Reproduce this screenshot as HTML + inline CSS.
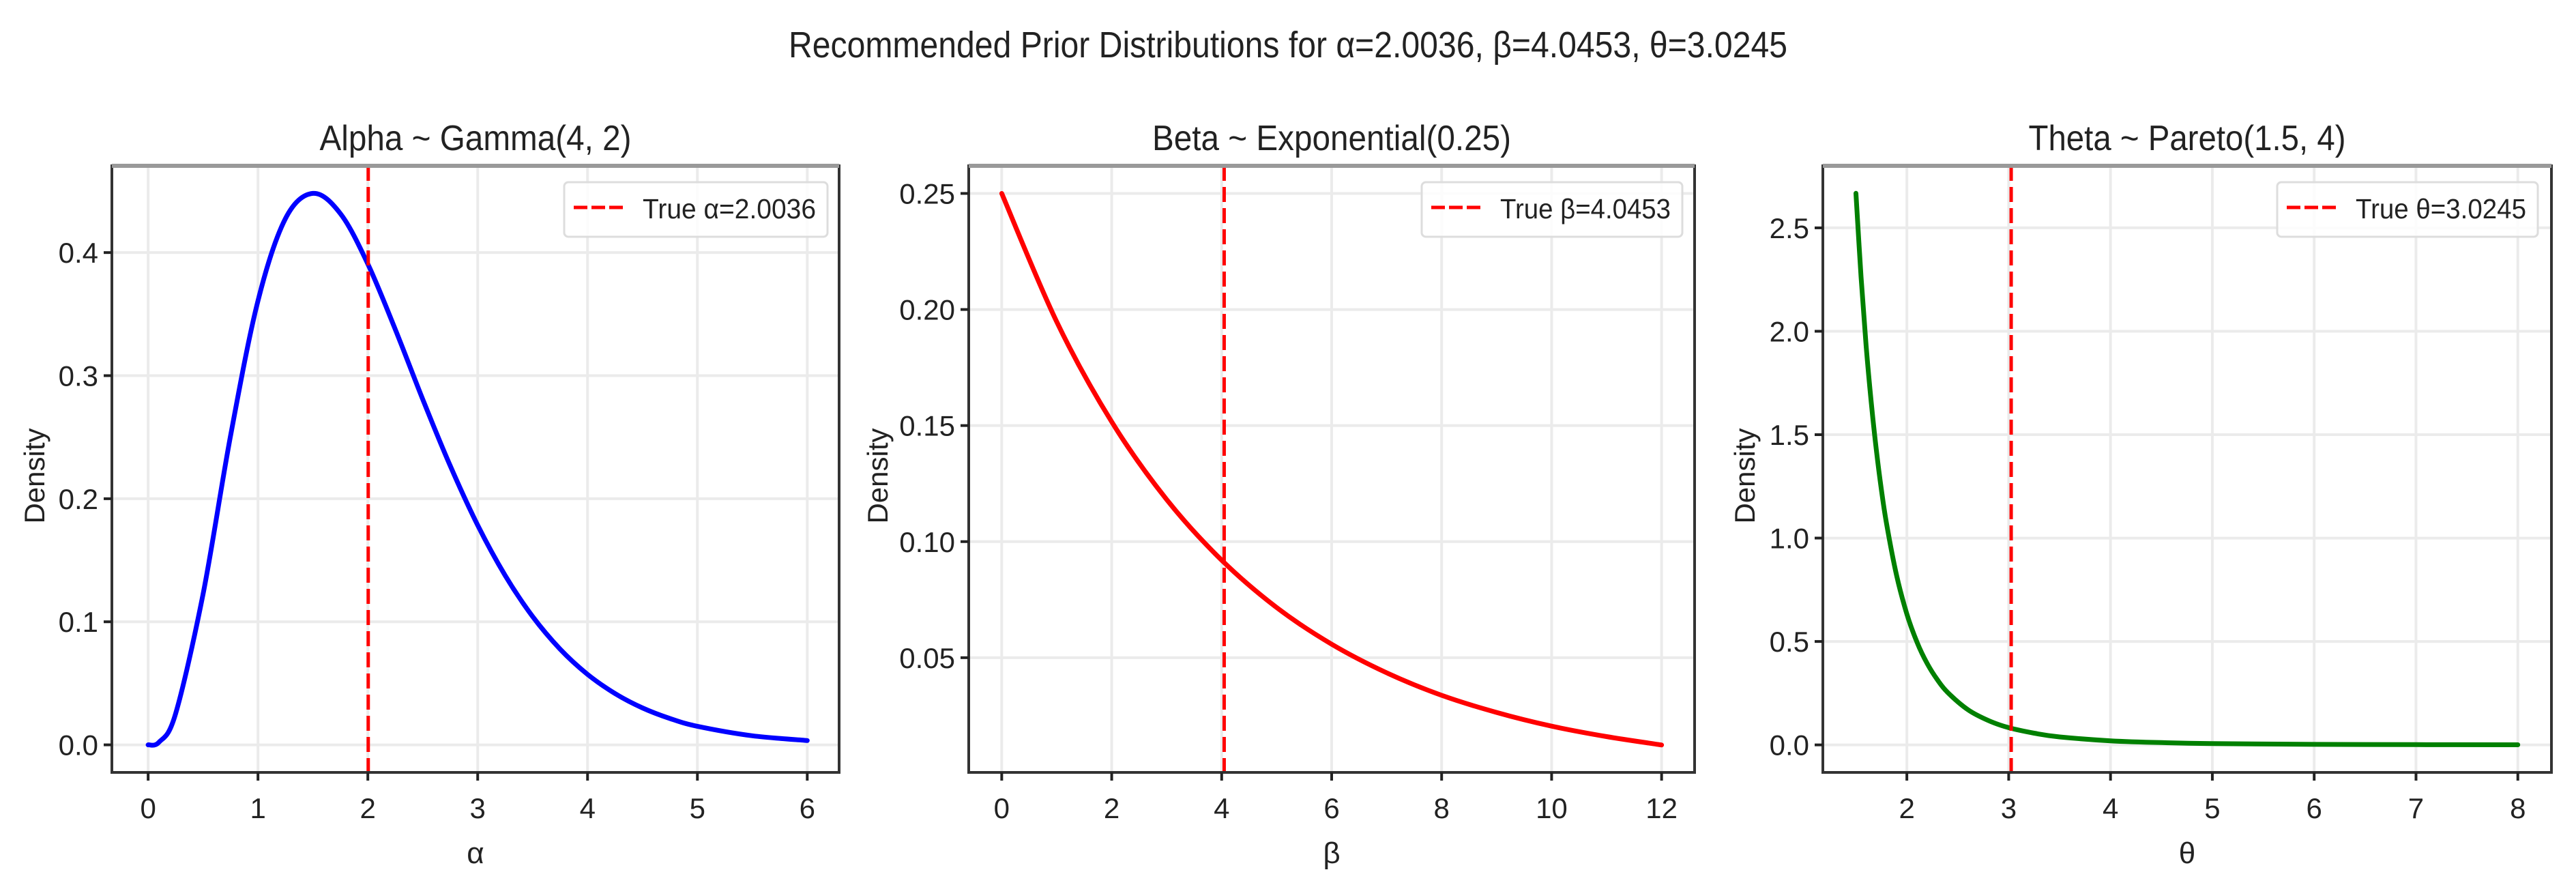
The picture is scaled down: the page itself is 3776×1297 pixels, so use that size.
<!DOCTYPE html>
<html><head><meta charset="utf-8">
<style>
html,body{margin:0;padding:0;background:#fff;}
svg{display:block;}
text{font-family:"Liberation Sans","DejaVu Sans",sans-serif;fill:#222;}
</style></head>
<body>
<svg id="fig" width="3776" height="1297" viewBox="0 0 3776 1297" xmlns="http://www.w3.org/2000/svg">
<text x="1888" y="84" font-size="54" text-anchor="middle" textLength="1464" lengthAdjust="spacingAndGlyphs">Recommended Prior Distributions for α=2.0036, β=4.0453, θ=3.0245</text>
</svg>
<script>
// ---- Panel 1 data: Gamma(4, 2)
const alphaX = [0,0.1,0.25,0.5,0.75,1,1.25,1.5,1.75,2,2.25,2.5,2.75,3,3.25,3.5,3.75,4,4.25,4.5,4.75,5,5.5,6];
const alphaY = [0,0.0022,0.0253,0.1226,0.2510,0.3609,0.4276,0.4481,0.4317,0.3907,0.3375,0.2807,0.2267,0.1785,0.1376,0.1043,0.0778,0.0573,0.0417,0.0300,0.0214,0.0151,0.0074,0.0035];
const alphaXTicks = [0,1,2,3,4,5,6];
const alphaYTicks = [0.0,0.1,0.2,0.3,0.4];
const alphaYLabels = ["0.0","0.1","0.2","0.3","0.4"];
const alphaTrue = 2.0036;
// ---- Panel 2 data: Exponential(0.25)
const betaX = [0,1,2,3,4,5,6,7,8,9,10,11,12];
const betaY = [0.25,0.1947,0.1516,0.1181,0.0920,0.0716,0.0558,0.0435,0.0338,0.0264,0.0205,0.0160,0.0124];
const betaXTicks = [0,2,4,6,8,10,12];
const betaYTicks = [0.05,0.10,0.15,0.20,0.25];
const betaYLabels = ["0.05","0.10","0.15","0.20","0.25"];
const betaTrue = 4.0453;
// ---- Panel 3 data: Pareto(1.5, 4)
const thetaX = [1.5,1.55,1.6,1.65,1.7,1.75,1.8,1.9,2.0,2.1,2.2,2.3,2.4,2.6,2.8,3.0,3.25,3.5,4,4.5,5,6,7,8];
const thetaY = [2.667,2.263,1.931,1.657,1.426,1.234,1.071,0.818,0.633,0.496,0.393,0.315,0.254,0.170,0.118,0.0833,0.0567,0.0386,0.0198,0.0110,0.0065,0.0026,0.0012,0.0006];
const thetaXTicks = [2,3,4,5,6,7,8];
const thetaYTicks = [0.0,0.5,1.0,1.5,2.0,2.5];
const thetaYLabels = ["0.0","0.5","1.0","1.5","2.0","2.5"];
const thetaTrue = 3.0245;

const NS = "http://www.w3.org/2000/svg";
const fig = document.getElementById('fig');
function mk(tag, attrs, parent){
  const e = document.createElementNS(NS, tag);
  for (const k in attrs) e.setAttribute(k, attrs[k]);
  (parent||fig).appendChild(e);
  return e;
}
function smoothPath(pts){
  let d = "M" + pts[0][0].toFixed(1) + "," + pts[0][1].toFixed(1);
  for (let i=0;i<pts.length-1;i++){
    const p0 = pts[Math.max(0,i-1)], p1 = pts[i], p2 = pts[i+1], p3 = pts[Math.min(pts.length-1,i+2)];
    const c1x = p1[0] + (p2[0]-p0[0])/6, c1y = p1[1] + (p2[1]-p0[1])/6;
    const c2x = p2[0] - (p3[0]-p1[0])/6, c2y = p2[1] - (p3[1]-p1[1])/6;
    d += " C" + c1x.toFixed(1)+","+c1y.toFixed(1)+" "+c2x.toFixed(1)+","+c2y.toFixed(1)+" "+p2[0].toFixed(1)+","+p2[1].toFixed(1);
  }
  return d;
}
function panel(cfg){
  const g = mk('g', {});
  
  
  const sx = v => cfg.L + (v - cfg.xmin) / (cfg.xmax - cfg.xmin) * (cfg.R - cfg.L);
  const sy = v => cfg.B - (v - cfg.ymin) / (cfg.ymax - cfg.ymin) * (cfg.B - cfg.T);
  cfg.xt.forEach(v => {
    const l = mk('line', {x1:sx(v), x2:sx(v), y1:cfg.T, y2:cfg.B, stroke:'#ebebeb', 'stroke-width':4}, g);
    
    
  });
  cfg.yt.forEach(v => {
    const l = mk('line', {x1:cfg.L, x2:cfg.R, y1:sy(v), y2:sy(v), stroke:'#ebebeb', 'stroke-width':4}, g);
    
    
  });
  const pts = cfg.xs.map((x,i) => [sx(x), sy(cfg.ys[i])]);
  const c = mk('path', {d:smoothPath(pts), fill:'none', stroke:cfg.color, 'stroke-width':7, 'stroke-linejoin':'round', 'stroke-linecap':'round'}, g);
  
  
  const tl = mk('line', {x1:sx(cfg.truth), x2:sx(cfg.truth), y1:cfg.T, y2:cfg.B, stroke:'#ff0000', 'stroke-width':5, 'stroke-dasharray':'22 9'}, g);
  
  
  const sp = mk('rect', {x:cfg.L, y:cfg.T, width:cfg.R-cfg.L, height:cfg.B-cfg.T, fill:'none', stroke:'#333', 'stroke-width':4}, g);
  
  
  const top = mk('line', {x1:cfg.L, x2:cfg.R, y1:cfg.T, y2:cfg.T, stroke:'#999', 'stroke-width':6}, g);
  
  
  cfg.xt.forEach(v => {
    const t = mk('line', {x1:sx(v), x2:sx(v), y1:cfg.B, y2:cfg.B+12, stroke:'#222', 'stroke-width':4}, g);
    
    
    const tx = mk('text', {x:sx(v), y:cfg.B+67, 'font-size':42, 'text-anchor':'middle'}, g);
    tx.textContent = String(v);
    
    
  });
  cfg.yt.forEach((v,i) => {
    const t = mk('line', {x1:cfg.L-12, x2:cfg.L, y1:sy(v), y2:sy(v), stroke:'#222', 'stroke-width':4}, g);
    
    
    const tx = mk('text', {x:cfg.L-20, y:sy(v)+15, 'font-size':42, 'text-anchor':'end'}, g);
    tx.textContent = cfg.yl[i];
    
    
  });
  const ti = mk('text', {x:(cfg.L+cfg.R)/2, y:220, 'font-size':52, 'text-anchor':'middle', textLength:cfg.titleW, lengthAdjust:'spacingAndGlyphs'}, g);
  ti.textContent = cfg.title;
  
  
  const xl = mk('text', {x:(cfg.L+cfg.R)/2, y:1265, 'font-size':44, 'text-anchor':'middle'}, g);
  xl.textContent = cfg.xlabel;
  
  
  const yl = mk('text', {x:0, y:0, 'font-size':42, 'text-anchor':'middle', transform:'translate('+(cfg.ylx+14)+','+((cfg.T+cfg.B)/2+10)+') rotate(-90)'}, g);
  yl.textContent = 'Density';
  
  
  const lg = mk('g', {}, g);
  
  
  const lx = cfg.legX, lw = cfg.legW;
  mk('rect', {x:lx, y:267, width:lw, height:80, rx:6, fill:'#fff', 'fill-opacity':0.85, stroke:'#ddd', 'stroke-width':3}, lg);
  const ll = mk('line', {x1:lx+14, x2:lx+86, y1:304, y2:304, stroke:'#ff0000', 'stroke-width':5, 'stroke-dasharray':'20 6'}, lg);
  
  
  const lt = mk('text', {x:lx+115, y:320, 'font-size':41, textLength:lw-132, lengthAdjust:'spacingAndGlyphs'}, lg);
  lt.textContent = cfg.legend;
  
  
}
panel({id:'alpha', L:164, R:1230, T:243, B:1132, xmin:-0.33, xmax:6.29, ymin:-0.0224, ymax:0.4705,
  xs:alphaX, ys:alphaY, xt:alphaXTicks, yt:alphaYTicks, yl:alphaYLabels, truth:alphaTrue, color:'#0000ff',
  title:'Alpha ~ Gamma(4, 2)', titleW:457, xlabel:'α', ylx:51, legX:827, legW:386, legend:'True α=2.0036'});
panel({id:'beta', L:1420, R:2484, T:243, B:1132, xmin:-0.6, xmax:12.6, ymin:0.00057, ymax:0.2619,
  xs:betaX, ys:betaY, xt:betaXTicks, yt:betaYTicks, yl:betaYLabels, truth:betaTrue, color:'#ff0000',
  title:'Beta ~ Exponential(0.25)', titleW:526, xlabel:'β', ylx:1287, legX:2084, legW:382, legend:'True β=4.0453'});
panel({id:'theta', L:2672, R:3740, T:243, B:1132, xmin:1.175, xmax:8.33, ymin:-0.1331, ymax:2.8,
  xs:thetaX, ys:thetaY, xt:thetaXTicks, yt:thetaYTicks, yl:thetaYLabels, truth:thetaTrue, color:'#008000',
  title:'Theta ~ Pareto(1.5, 4)', titleW:465, xlabel:'θ', ylx:2558, legX:3338, legW:382, legend:'True θ=3.0245'});
</script>
</body></html>
